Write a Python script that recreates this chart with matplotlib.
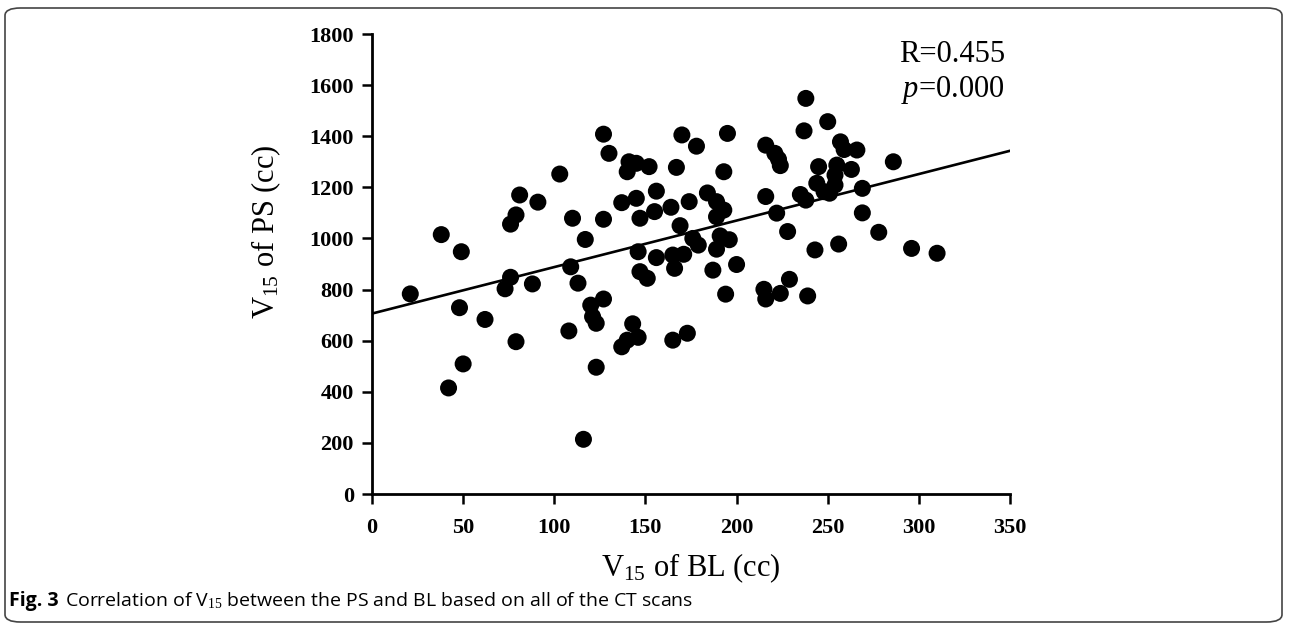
import matplotlib
matplotlib.use("Agg")
import matplotlib.pyplot as plt
from matplotlib.patches import FancyBboxPatch
import numpy as np

# ---- data ----
bl_v15 = [21, 38, 42, 48, 49, 50, 62, 73, 76, 76, 79, 79, 81, 88, 91, 103, 108, 109, 110, 113,
          116, 117, 120, 121, 123, 123, 127, 127, 127, 130, 137, 137, 140, 140, 141, 143, 145, 145,
          146, 146, 147, 147, 151, 152, 155, 156, 156, 164, 165, 165, 166, 167, 169, 170, 171, 173,
          174, 176, 178, 179, 184, 187, 189, 189, 189, 191, 193, 193, 194, 195, 196, 200, 215, 216,
          216, 216, 221, 222, 223, 224, 224, 228, 229, 235, 237, 238, 238, 239, 243, 244, 245, 248,
          250, 251, 254, 254, 255, 256, 257, 259, 263, 266, 269, 269, 278, 286, 296, 310]
ps_v15 = [783, 1015, 415, 729, 948, 509, 683, 803, 1056, 848, 596, 1092, 1170, 822, 1142, 1252, 638,
          889, 1079, 825, 214, 996, 739, 694, 668, 496, 763, 1075, 1408, 1333, 576, 1140, 602, 1261,
          1300, 666, 1294, 1157, 948, 613, 870, 1079, 844, 1281, 1105, 1185, 925, 1122, 602, 935, 883,
          1278, 1050, 1405, 938, 629, 1144, 1000, 1361, 974, 1178, 876, 1144, 958, 1085, 1010, 1261,
          1111, 782, 1411, 995, 898, 801, 763, 1365, 1164, 1333, 1099, 1310, 1285, 785, 1027, 840,
          1172, 1421, 1150, 1548, 775, 955, 1216, 1281, 1183, 1457, 1177, 1209, 1248, 1287, 978, 1378,
          1348, 1270, 1346, 1196, 1100, 1024, 1300, 961, 942]
fit_intercept = 706
fit_slope = 1.82
x_ticks = [0, 50, 100, 150, 200, 250, 300, 350]
y_ticks = [0, 200, 400, 600, 800, 1000, 1200, 1400, 1600, 1800]
r_text = "R=0.455"
p_value = "0.000"
xlabel_text = r"V$_{\mathregular{15}}$ of BL (cc)"
ylabel_text = r"V$_{\mathregular{15}}$ of PS (cc)"
caption_bold = "Fig. 3"
caption_rest = r"Correlation of V$_{15}$ between the PS and BL based on all of the CT scans"

plt.rcParams['mathtext.fontset'] = 'custom'
plt.rcParams['mathtext.rm'] = 'Liberation Serif'
plt.rcParams['mathtext.it'] = 'Liberation Serif:italic'

W, H = 1289, 624
fig = plt.figure(figsize=(W / 100, H / 100), dpi=100)
ax = fig.add_axes([372 / W, 1 - 494 / H, (1010 - 372) / W, (494 - 34) / H])

ax.scatter(bl_v15, ps_v15, s=150, color='black', edgecolors='none', zorder=3, clip_on=False)
xs = np.array([0, 350])
ax.plot(xs, fit_intercept + fit_slope * xs, color='black', lw=1.9, zorder=2)

ax.set_xlim(0, 350)
ax.set_ylim(0, 1800)
ax.set_xticks(x_ticks)
ax.set_yticks(y_ticks)
for s in ['top', 'right']:
    ax.spines[s].set_visible(False)
for s in ['left', 'bottom']:
    ax.spines[s].set_linewidth(2)
ax.tick_params(direction='out', length=7, width=1.8)
ax.tick_params(axis='x', pad=10)
ax.tick_params(axis='y', pad=6)
for lab in ax.get_xticklabels() + ax.get_yticklabels():
    lab.set_fontfamily('Liberation Serif')
    lab.set_fontweight('bold')
    lab.set_fontsize(16)

ax.set_xlabel(xlabel_text, fontfamily='Liberation Serif', fontsize=22, labelpad=10)
ax.set_ylabel(ylabel_text, fontfamily='Liberation Serif', fontsize=22, labelpad=8)
ax.yaxis.set_label_coords(-0.14, 0.57)

fig.text(1005 / W, 1 - 55 / H, r_text, ha='right', va='center',
         fontfamily='Liberation Serif', fontsize=22)
fig.text(1005 / W, 1 - 90 / H, r"$\mathit{p}$=" + p_value, ha='right', va='center',
         fontfamily='Liberation Serif', fontsize=22)

# caption
cap_y = 1 - 601 / H
t1 = fig.text(9 / W, cap_y, caption_bold, ha='left', va='center', fontfamily='Open Sans',
              fontweight='bold', fontsize=14)
fig.canvas.draw()
bb = t1.get_window_extent()
fig.text((bb.x1 + 6) / W, cap_y, caption_rest,
         ha='left', va='center', fontfamily='Open Sans', fontsize=14)

frame = FancyBboxPatch((5 / W, 2 / H), (1282 - 5) / W, (616 - 2) / H,
                       boxstyle="round,pad=0,rounding_size=0.012",
                       transform=fig.transFigure, fill=False, edgecolor='#444444', lw=1.2)
fig.patches.append(frame)

fig.savefig("out.png", dpi=100)
